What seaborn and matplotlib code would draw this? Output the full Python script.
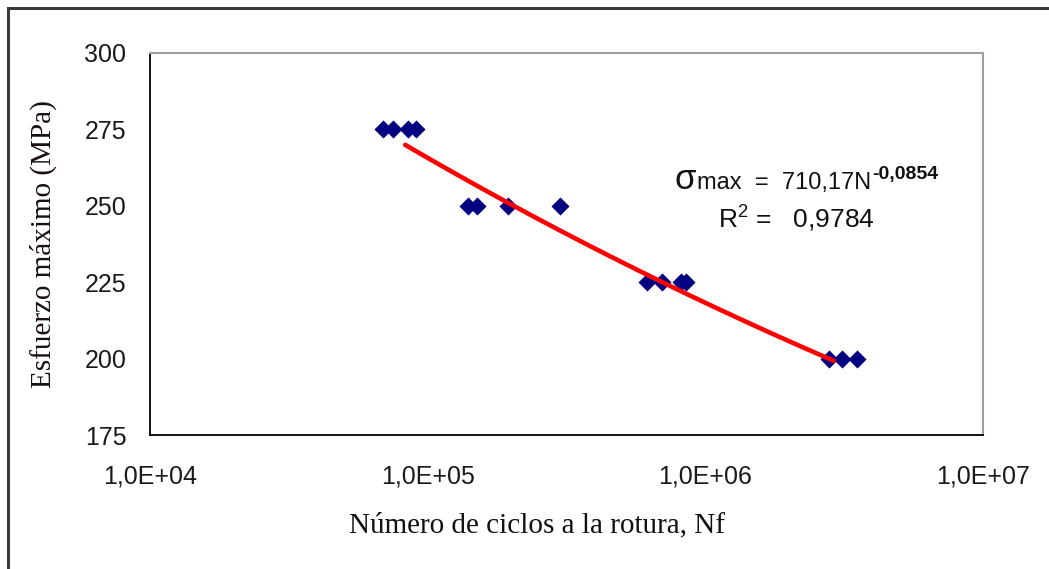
import numpy as np
import pandas as pd
import seaborn as sns
import matplotlib
matplotlib.use("Agg")
import matplotlib.pyplot as plt
from matplotlib.ticker import FixedLocator, FuncFormatter, NullLocator
from matplotlib.patches import Rectangle

# Fatigue test results: cycles to failure vs. maximum stress
cycles = [69000, 75000, 85000, 91000,
          140000, 151000, 195000, 299000,
          616000, 698000, 817000, 851000,
          2790000, 3100000, 3520000]
stress = [275, 275, 275, 275,
          250, 250, 250, 250,
          225, 225, 225, 225,
          200, 200, 200]

# Power-law trend: sigma_max = a * N^b
coef_a = 710.17
coef_b = -0.0854
r_squared = 0.9784
trend_range = [83000, 2900000]

x_ticks = [1e4, 1e5, 1e6, 1e7]
y_ticks = [175, 200, 225, 250, 275, 300]

sns.set_theme(style="white")
plt.rcParams["font.family"] = ["Liberation Sans", "DejaVu Sans"]
plt.rcParams["mathtext.fontset"] = "custom"
plt.rcParams["mathtext.rm"] = "Liberation Sans"
plt.rcParams["mathtext.bf"] = "Liberation Sans:bold"

fig = plt.figure(figsize=(10.49, 5.69), dpi=100)
ax = fig.add_axes([150 / 1049, 1 - 435 / 569, 833 / 1049, 382 / 569])

df = pd.DataFrame({"Nf": cycles, "sigma": stress})
n_line = np.geomspace(trend_range[0], trend_range[1], 200)
trend = pd.DataFrame({"Nf": n_line, "sigma": coef_a * n_line ** coef_b})

sns.scatterplot(data=df, x="Nf", y="sigma", ax=ax, marker="D", s=85,
                color="#000080", edgecolor="#000080", linewidth=0, zorder=2)
sns.lineplot(data=trend, x="Nf", y="sigma", ax=ax, color="#ff0000",
             linewidth=3.3, zorder=3)

ax.set_xscale("log")
ax.set_xlim(1e4, 1e7)
ax.set_ylim(175, 300)
ax.xaxis.set_major_locator(FixedLocator(x_ticks))
ax.xaxis.set_minor_locator(NullLocator())
ax.yaxis.set_major_locator(FixedLocator(y_ticks))
ax.xaxis.set_major_formatter(FuncFormatter(lambda v, p: "1,0E+%02d" % round(np.log10(v))))
ax.yaxis.set_major_formatter(FuncFormatter(lambda v, p: "%d" % v))

ax.tick_params(axis="both", which="major", direction="out", length=7, width=1.2,
               color="black", labelsize=18, labelcolor="#1a1a1a")
ax.tick_params(axis="x", pad=14)
ax.tick_params(axis="y", pad=10)

for side in ("left", "bottom"):
    ax.spines[side].set_color("black")
    ax.spines[side].set_linewidth(1.3)
for side in ("top", "right"):
    ax.spines[side].set_color("#a0a0a0")
    ax.spines[side].set_linewidth(1.5)

ax.set_xlabel("Número de ciclos a la rotura, Nf", family=["Liberation Serif", "DejaVu Serif"],
              fontsize=21, color="#111111")
ax.xaxis.set_label_coords(0.465, -0.203)
ax.set_ylabel("Esfuerzo máximo (MPa)", family=["Liberation Serif", "DejaVu Serif"],
              fontsize=21, color="#1a1010")
ax.yaxis.set_label_coords(-0.112, 0.5)

# Trend equation and coefficient of determination
exp_txt = ("%.4f" % coef_b).replace(".", ",")
a_txt = ("%.2f" % coef_a).replace(".", ",")
ax.text(0.6555, 0.644, "σ", transform=ax.transAxes, ha="right", va="baseline",
        fontsize=25, color="#111111")
eq = ax.text(0.6567, 0.644, "max  =  %sN" % a_txt, transform=ax.transAxes,
             ha="left", va="baseline", fontsize=17, color="#111111")
ax.annotate(exp_txt, xy=(1.0, 0.5), xycoords=eq, xytext=(1, 0),
            textcoords="offset points", ha="left", va="bottom",
            fontsize=14, fontweight="bold", color="#111111")
ax.text(0.682, 0.542, r"$\mathregular{R^{2}}$ =   " + ("%.4f" % r_squared).replace(".", ","),
        transform=ax.transAxes, ha="left", va="baseline", fontsize=19, color="#111111")

# Chart area frame
fig.add_artist(Rectangle((8 / 1049, -0.05), 1.2, 1 - 7.5 / 569 + 0.05, fill=False,
                         edgecolor="#3a3a3a", linewidth=2.2, transform=fig.transFigure,
                         clip_on=False))

fig.savefig("out.png", dpi=100)
